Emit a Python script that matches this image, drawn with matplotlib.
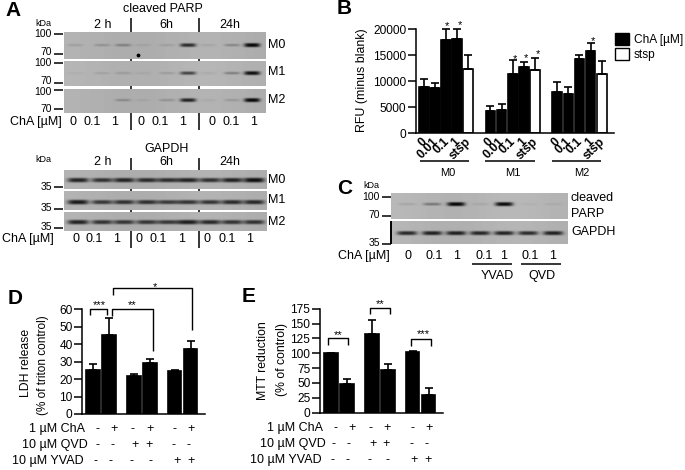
import numpy as np
import matplotlib
matplotlib.use("Agg")
import matplotlib.pyplot as plt
from matplotlib.patches import Patch
from matplotlib.transforms import ScaledTranslation

plt.rcParams['font.family'] = ['Liberation Sans', 'DejaVu Sans']

W, H = 685, 470

# panel B
rfu_labels = ['0', '0.01', '0.1', '1', 'stsp'] * 2 + ['0', '0.1', '0.1', '1', 'stsp']
rfu_vals = [8800, 8600, 17900, 18200, 12300, 4300, 4500, 11400, 12700, 12100, 8000, 7500, 14300, 15900, 11400]
rfu_tops = [10400, 9600, 20000, 20000, 15000, 5250, 5550, 14100, 13650, 14500, 9750, 8850, 14950, 17450, 13850]
rfu_open = [4, 9, 14]

# panel D
ldh_vals = [25.5, 45.5, 21.5, 29.5, 24.5, 37]
ldh_tops = [28.5, 55, 23, 31.3, 25, 42]

# panel E
mtt_vals = [100, 48, 132, 72, 102, 30]
mtt_tops = [100, 56.7, 156, 82, 103, 42]

# band strength per lane, 0 = nothing, 1 = full black
parp_m0 = [.12, .18, .28, .08, .1, .8, .08, .25, 1]
parp_m1 = [.04, .1, .13, .06, .13, .65, .06, .3, .95]
parp_m2 = [0, 0, .22, .06, .18, .85, .06, .15, 1]
gapdh_m0 = [.85, .75, .82, .78, .78, .85, .78, .85, .95]
gapdh_m1 = [.9, .72, .75, .75, .7, .75, .75, .8, .8]
gapdh_m2 = [.85, .75, .72, .72, .72, .88, .82, .75, .75]
parp_c = [.1, .35, 1, .08, 1, .04, .06]
gapdh_c = [.82, .85, .85, .82, .85, .8, .85]


def px_axes(x0, x1, ytop, ybot):
    return fig.add_axes([x0 / W, 1 - ybot / H, (x1 - x0) / W, (ybot - ytop) / H])


def bars(ax, xs, vals, tops, yticks, open_idx=(), width=.85):
    vals = np.array(vals, float)
    errs = np.array(tops, float) - vals
    colors = ['white' if i in open_idx else 'black' for i in range(len(vals))]
    ax.bar(xs, vals, width=width, color=colors, edgecolor='black', linewidth=1.2)
    ax.errorbar(xs, vals, yerr=[np.zeros(len(vals)), errs], fmt='none', ecolor='black',
                elinewidth=1.2, capsize=2.6, capthick=1.2, clip_on=False)
    ax.set_yticks(yticks)
    ax.tick_params(axis='y', length=5.5, width=1.1, labelsize=8.6, pad=1.5)
    ax.spines[['top', 'right']].set_visible(False)
    ax.spines[['left', 'bottom']].set_linewidth(1.1)
    ax.patch.set_alpha(0)


def blot(x0, x1, y0, y1, band_y, lanes, strengths, bg, band_w=16, thick=2.0):
    # small picture of a gel, built from the band strengths
    sc = 4
    yy, xx = np.mgrid[y0:y1:1 / sc, x0:x1:1 / sc]
    img = np.full(xx.shape, bg, float)
    # slow drift so the strip is not flat
    img += .012 * np.cos((xx - x0) / (x1 - x0) * 9)
    for lx, s in zip(lanes, strengths):
        hw = band_w / 2
        prof_x = np.exp(-np.abs((xx - lx) / hw) ** 4)
        t = thick * (.55 + .45 * s)
        prof_y = np.exp(-np.abs((yy - band_y) / t) ** 3)
        img -= (bg - .03) * s * prof_x * prof_y
    over.imshow(img, cmap='gray', vmin=0, vmax=1, extent=(x0, x1, y1, y0), aspect='auto',
                interpolation='bilinear', zorder=1)


def line(xs, ys, lw=1.1):
    over.plot(xs, ys, color='black', lw=lw, solid_capstyle='butt', zorder=3)


def txt(x, y, s, size=9, ha='center', **kw):
    over.text(x, y, s, fontsize=size, ha=ha, va='center', zorder=4, **kw)


fig = plt.figure(figsize=(W / 100, H / 100), dpi=100)

# overlay in pixel coordinates for gels, labels and brackets
over = fig.add_axes([0, 0, 1, 1], zorder=5)
over.patch.set_alpha(0)
over.axis('off')

# ---- A
parp_lanes = [75, 102, 123, 143, 167, 188, 208, 232, 252]
blot(64, 266, 32, 59, 45, parp_lanes, parp_m0, .69)
blot(64, 266, 61, 86, 73, parp_lanes, parp_m1, .7)
blot(64, 266, 89, 113, 100, parp_lanes, parp_m2, .69)
over.scatter([138], [55], s=3, color='black', zorder=2)

gapdh_lanes = [78, 102, 124, 147, 168, 188, 210, 232, 254]
blot(64, 267, 170, 189, 180, gapdh_lanes, gapdh_m0, .69, band_w=21, thick=2.4)
blot(64, 267, 191, 210, 202, gapdh_lanes, gapdh_m1, .69, band_w=21, thick=2.4)
blot(64, 267, 212, 231, 222, gapdh_lanes, gapdh_m2, .69, band_w=21, thick=2.4)

txt(5, 10, 'A', 15, ha='left', fontweight='bold')
txt(163, 9, 'cleaved PARP')
txt(167, 149, 'GAPDH')
for yy in (25, 162):
    txt(103, yy, '2 h')
    txt(166, yy, '6h')
    txt(230, yy, '24h')
txt(43, 24, 'kDa', 6.5)
txt(43, 159, 'kDa', 6.5)

for tx in (130.7, 199.3):
    line([tx, tx], [18, 32])
    line([tx, tx], [59, 61])
    line([tx, tx], [86, 89])
    line([tx, tx], [113, 130])
    line([tx, tx], [158, 170])
    line([tx, tx], [189, 191])
    line([tx, tx], [210, 212])
    line([tx, tx], [231, 248])

for s, yl, yt in (('100', 34, 34), ('70', 52, 54), ('100', 63, 63), ('70', 81, 83),
                  ('100', 92, 90), ('70', 109, 109)):
    txt(52, yl, s, 7.5, ha='right')
    line([54, 63], [yt, yt])
for yl, yt in ((187, 187), (208, 209), (227, 228)):
    txt(52, yl, '35', 7.5, ha='right')
    line([54, 63], [yt, yt])

for s, y1, y2 in (('M0', 45, 180), ('M1', 72, 200), ('M2', 100, 222)):
    txt(268, y1, s, ha='left')
    txt(268, y2, s, ha='left')

dose = ['0', '0.1', '1'] * 3
txt(10, 122, 'ChA [µM]', ha='left')
txt(2, 239, 'ChA [µM]', ha='left')
for s, xa, xb in zip(dose, [73, 92, 115, 141, 160, 183, 212, 231, 254],
                     [76, 94, 117, 139, 158, 182, 207, 227, 250]):
    txt(xa, 122, s)
    txt(xb, 239, s)

# ---- B
ax_b = px_axes(416, 614, 29.3, 133)
xs_b = [0, 1, 2, 3, 4, 6, 7, 8, 9, 10, 12, 13, 14, 15, 16]
bars(ax_b, xs_b, rfu_vals, rfu_tops, [0, 5000, 10000, 15000, 20000], rfu_open, width=.87)
ax_b.set_xlim(-.69, 17.1)
ax_b.set_ylim(0, 20000)
ax_b.set_xticks(xs_b)
ax_b.set_xticklabels(rfu_labels, rotation=45, ha='right', rotation_mode='anchor',
                     fontweight='bold', fontsize=8.8)
ax_b.tick_params(axis='x', length=0, pad=2)
shift = ScaledTranslation(-3 / 100, 0, fig.dpi_scale_trans)
for lb in ax_b.get_xticklabels():
    lb.set_transform(lb.get_transform() + shift)
ax_b.legend(handles=[Patch(facecolor='black', edgecolor='black', label='ChA [µM]'),
                     Patch(facecolor='white', edgecolor='black', label='stsp')],
            loc='upper left', bbox_to_anchor=(615 / W, 1 - 33 / H), bbox_transform=fig.transFigure,
            frameon=False, fontsize=8.6, handlelength=1.15, handleheight=1.15, labelspacing=.15,
            handletextpad=.45, borderpad=0, borderaxespad=0)

txt(337, 9, 'B', 15, ha='left', fontweight='bold')
txt(362, 80, 'RFU (minus blank)', 8.9, rotation=90)
for a, b, s, c in ((420, 469, 'M0', 448), (485, 535, 'M1', 513), (552, 601, 'M2', 582)):
    line([a, b], [161, 161])
    txt(c, 173, s, 8)
for sx, sy in ((447, 23), (460, 22), (515, 56), (526, 55), (538, 51), (593, 38)):
    txt(sx, sy + 3, '*', 8)

# ---- C
c_lanes = [407, 432, 456, 480, 504, 528, 553]
blot(391, 568, 193, 219, 204, c_lanes, parp_c, .71, band_w=18, thick=2.0)
blot(391, 568, 221, 244, 233, c_lanes, gapdh_c, .7, band_w=20, thick=2.2)
line([391, 391], [221, 244], lw=1.4)
txt(337, 188, 'C', 15, ha='left', fontweight='bold')
txt(371, 186, 'kDa', 6.5)
for s, yl, yt in (('100', 197, 197), ('70', 215, 216), ('35', 243, 244)):
    txt(380, yl, s, 7.5, ha='right')
    line([382, 391], [yt, yt])
txt(571, 198, 'cleaved', ha='left')
txt(571, 214, 'PARP', ha='left')
txt(571, 232, 'GAPDH', ha='left')
txt(338, 256, 'ChA [µM]', ha='left')
for s, tx in zip(['0', '0.1', '1', '0.1', '1', '0.1', '1'], [408, 434, 457, 484, 504, 530, 553]):
    txt(tx, 256, s)
line([472, 512], [264, 264])
line([521, 561], [264, 264])
txt(497, 276, 'YVAD')
txt(542, 276, 'QVD')

# ---- D
ax_d = px_axes(82.3, 205, 309.3, 414)
xs_de = [0, 1, 2.55, 3.55, 5.1, 6.1]
bars(ax_d, xs_de, ldh_vals, ldh_tops, range(0, 61, 10))
ax_d.set_xlim((82.3 - 93) / 16, (205 - 93) / 16)
ax_d.set_ylim(0, 60)
ax_d.set_xticks([])
txt(8, 298, 'D', 15, ha='left', fontweight='bold')
txt(26, 363, 'LDH release', 8.8, rotation=90)
txt(43, 365, '(% of triton control)', 8.5, rotation=90)


def bracket(pts):
    line([p[0] for p in pts], [p[1] for p in pts], lw=1)


bracket([(90.3, 315), (90.3, 308.5), (107, 308.5), (107, 315)])
bracket([(112.5, 315.5), (112.5, 308.5), (153, 308.5), (153, 350.5)])
bracket([(113.5, 295), (113.5, 287.5), (192.5, 287.5), (192.5, 330)])
txt(99, 305, '***', 8)
txt(132, 305, '**', 8)
txt(155, 287, '*', 8)

txt(29, 429, '1 µM ChA', ha='left')
txt(22, 445, '10 µM QVD', ha='left')
txt(12, 461, '10 µM YVAD', ha='left')
rows_d = (('-+-+-+', [98, 114, 133, 150, 175, 191], 429),
          ('--++--', [98, 113, 135, 149, 174, 189], 445),
          ('----++', [96, 111, 132, 151, 177, 191], 461))
for signs, sx, sy in rows_d:
    for c, tx in zip(signs, sx):
        txt(tx, sy, c)

# ---- E
ax_e = px_axes(320, 443, 308.7, 412.7)
bars(ax_e, xs_de, mtt_vals, mtt_tops, range(0, 176, 25))
ax_e.set_xlim((320 - 331) / 16, (443 - 331) / 16)
ax_e.set_ylim(0, 175)
ax_e.set_xticks([])
txt(242, 297, 'E', 15, ha='left', fontweight='bold')
txt(263, 361, 'MTT reduction', 8.8, rotation=90)
txt(282, 360, '(% of control)', 8.8, rotation=90)

bracket([(328, 345), (328, 338), (348, 338), (348, 345)])
bracket([(370, 314), (370, 307.5), (390, 307.5), (390, 314)])
bracket([(411, 346), (411, 339), (431, 339), (431, 346)])
txt(338, 335, '**', 8)
txt(380, 304, '**', 8)
txt(423, 334, '***', 8)

txt(267, 428, '1 µM ChA', ha='left')
txt(260, 444, '10 µM QVD', ha='left')
txt(250, 460, '10 µM YVAD', ha='left')
rows_e = (('-+-+-+', [336, 352, 371, 387, 413, 429], 428),
          ('--++--', [334, 349, 373, 386, 412, 427], 444),
          ('----++', [333, 348, 370, 388, 414, 428], 460))
for signs, sx, sy in rows_e:
    for c, tx in zip(signs, sx):
        txt(tx, sy, c)

over.set_xlim(0, W)
over.set_ylim(H, 0)

fig.savefig('out.png', dpi=100)
